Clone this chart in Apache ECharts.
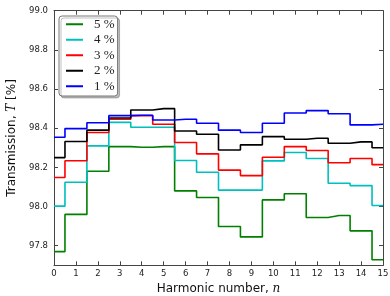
<!DOCTYPE html>
<html>
<head>
<meta charset="utf-8">
<script src="https://cdn.jsdelivr.net/npm/echarts@6/dist/echarts.min.js"></script>
<style>
  html,body{margin:0;padding:0;background:#fff;}
  #chart{width:390px;height:296px;}
</style>
</head>
<body>
<div id="chart"></div>
<script>
  // harmonic number n = 0..15
  var harmonics = [0,1,2,3,4,5,6,7,8,9,10,11,12,13,14,15];
  var names = ['5 %','4 %','3 %','2 %','1 %'];
  var colors = ['#008000','#00bfbf','#ff0000','#000000','#0000ff'];
  // transmission T [%]
  var t5 = [97.77,97.96,98.18,98.306,98.303,98.306,98.08,98.046,97.898,97.845,98.034,98.065,97.944,97.954,97.876,97.728];
  var t4 = [98.002,98.124,98.31,98.43,98.405,98.405,98.235,98.175,98.084,98.084,98.233,98.276,98.245,98.119,98.107,98.005];
  var t3 = [98.148,98.234,98.378,98.446,98.464,98.42,98.327,98.269,98.186,98.158,98.252,98.306,98.286,98.224,98.245,98.214];
  var t2 = [98.25,98.332,98.39,98.452,98.493,98.50,98.386,98.369,98.289,98.315,98.357,98.344,98.349,98.323,98.33,98.30];
  var t1 = [98.354,98.398,98.428,98.464,98.466,98.442,98.446,98.425,98.39,98.378,98.425,98.478,98.49,98.474,98.417,98.42];
  var yTicks = [97.8,98.0,98.2,98.4,98.6,98.8,99.0];
  var xTicks = [0,1,2,3,4,5,6,7,8,9,10,11,12,13,14,15];

  var allSeries = [t5,t4,t3,t2,t1];
  var frame = '#444';

  var chart = echarts.init(document.getElementById('chart'));

  var series = allSeries.map(function(vals, i){
    return {
      name: names[i],
      type: 'line',
      step: 'middle',
      symbol: 'none',
      animation: false,
      lineStyle: {color: colors[i], width: 1.6},
      itemStyle: {color: colors[i]},
      data: harmonics.map(function(n, k){ return [n, vals[k]]; })
    };
  });

  var option = {
    backgroundColor: '#fff',
    animation: false,
    grid: {left: 54, right: 7, top: 10.7, bottom: 30.7, outerBoundsMode: 'none', containLabel: false},
    legend: {
      data: names,
      orient: 'vertical',
      left: 59,
      top: 16,
      icon: 'rect',
      itemWidth: 17,
      itemHeight: 2,
      itemGap: 0,
      padding: [0.5, 3, 2, 7],
      backgroundColor: '#fff',
      borderColor: '#777',
      borderWidth: 1,
      borderRadius: 3,
      shadowColor: 'rgba(0,0,0,0.25)',
      shadowBlur: 0,
      shadowOffsetX: 2,
      shadowOffsetY: 2,
      textStyle: {fontFamily: 'Liberation Serif', fontSize: 13, color: '#222', lineHeight: 15.5, padding: [0,0,0,6]}
    },
    xAxis: [{
      type: 'value',
      min: 0, max: 15, interval: 1,
      name: 'Harmonic number, {i|n}',
      nameLocation: 'middle',
      nameGap: 14,
      nameTextStyle: {
        fontFamily: 'DejaVu Sans', fontSize: 12, color: '#111', verticalAlign: 'top',
        rich: {i: {fontFamily: 'DejaVu Serif', fontStyle: 'italic', fontSize: 12, color: '#111'}}
      },
      axisLine: {show: true, onZero: false, lineStyle: {color: frame, width: 1}},
      axisTick: {show: true, inside: true, length: 4, lineStyle: {color: frame}},
      axisLabel: {fontFamily: 'DejaVu Sans', fontSize: 8.5, color: '#222', margin: 4, customValues: xTicks},
      splitLine: {show: false}
    }, {
      type: 'value', position: 'top',
      min: 0, max: 15, interval: 1,
      axisLine: {show: true, onZero: false, lineStyle: {color: frame, width: 1}},
      axisTick: {show: true, inside: true, length: 4, lineStyle: {color: frame}},
      axisLabel: {show: false},
      splitLine: {show: false}
    }],
    yAxis: [{
      type: 'value',
      min: 97.7, max: 99.0,
      name: 'Transmission, {i|T} [%]',
      nameLocation: 'middle',
      nameGap: 32,
      nameTextStyle: {
        fontFamily: 'DejaVu Sans', fontSize: 12, color: '#111',
        rich: {i: {fontFamily: 'DejaVu Serif', fontStyle: 'italic', fontSize: 12, color: '#111'}}
      },
      axisLine: {show: true, onZero: false, lineStyle: {color: frame, width: 1}},
      axisTick: {show: true, inside: true, length: 4, customValues: yTicks, lineStyle: {color: frame}},
      axisLabel: {
        fontFamily: 'DejaVu Sans', fontSize: 8.5, color: '#222', margin: 6,
        customValues: yTicks,
        formatter: function(v){ return v.toFixed(1); }
      },
      splitLine: {show: false}
    }, {
      type: 'value', position: 'right',
      min: 97.7, max: 99.0,
      axisLine: {show: true, onZero: false, lineStyle: {color: frame, width: 1}},
      axisTick: {show: true, inside: true, length: 4, customValues: yTicks, lineStyle: {color: frame}},
      axisLabel: {show: false},
      splitLine: {show: false}
    }],
    series: series
  };

  chart.setOption(option);
</script>
</body>
</html>
